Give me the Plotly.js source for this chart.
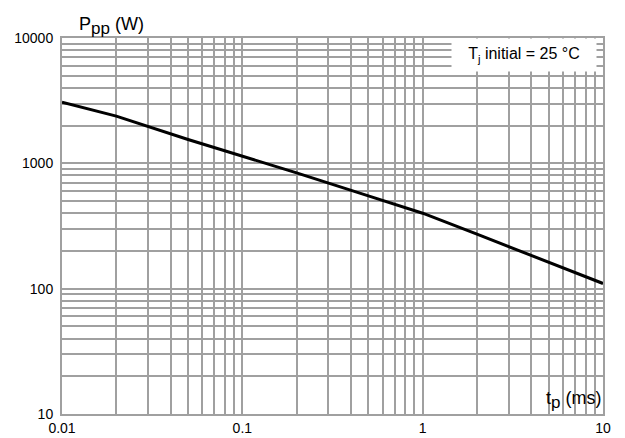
<!DOCTYPE html>
<html>
<head>
<meta charset="utf-8">
<script src="https://cdn.plot.ly/plotly-3.0.1.min.js"></script>
<style>html,body{margin:0;padding:0;background:#fff;}#chart{width:625px;height:438px;}</style>
</head>
<body>
<div id="chart"></div>
<script>
const pulseMs = [0.01, 0.02, 0.05, 0.1, 0.2, 0.5, 1, 2, 5, 10];
const peakPowerW = [3080, 2380, 1550, 1140, 840, 550, 400, 272, 162, 110];
const xTickVals = [0.01, 0.1, 1, 10];
const xTickText = ["0.01", "0.1", "1", "10"];
const yTickVals = [10, 100, 1000, 10000];
const yTickText = ["10", "100", "1000", "10000"];

const gridCol = "#a0a0a0";
const fontFam = "Liberation Sans, Arial, sans-serif";

const trace = {
  x: pulseMs, y: peakPowerW, type: "scatter", mode: "lines",
  line: {color: "#000", width: 3}, hoverinfo: "skip", showlegend: false
};

const layout = {
  width: 625, height: 438,
  margin: {l: 62, r: 22, t: 38, b: 24},
  paper_bgcolor: "#fff", plot_bgcolor: "#fff",
  font: {family: fontFam, size: 14, color: "#000"},
  xaxis: {
    type: "log", range: [-2, 1], tickvals: xTickVals, ticktext: xTickText,
    showgrid: true, gridcolor: gridCol, gridwidth: 2,
    minor: {dtick: "D1", showgrid: true, gridcolor: gridCol, gridwidth: 2},
    showline: true, mirror: true, linecolor: gridCol, linewidth: 2,
    ticks: "", zeroline: false, ticklabelstandoff: 0,
    tickfont: {size: 14, family: fontFam}
  },
  yaxis: {
    type: "log", range: [1, 4], tickvals: yTickVals, ticktext: yTickText,
    showgrid: true, gridcolor: gridCol, gridwidth: 2,
    minor: {dtick: "D1", showgrid: true, gridcolor: gridCol, gridwidth: 2},
    showline: true, mirror: true, linecolor: gridCol, linewidth: 2,
    ticks: "", zeroline: false, ticklabelstandoff: 4,
    tickfont: {size: 14, family: fontFam}
  },
  annotations: [
    {xref: "paper", yref: "paper", x: 0.028, y: 1, xanchor: "left", yanchor: "bottom", yshift: -2,
     text: "P<sub><span style=\"font-size:17px\">pp</span></sub> (W)", showarrow: false, font: {size: 18, family: fontFam}},
    {xref: "paper", yref: "paper", x: 1, y: 0, xanchor: "right", yanchor: "bottom", yshift: 0,
     text: "t<sub><span style=\"font-size:17px\">p</span></sub> (ms)", showarrow: false, font: {size: 18, family: fontFam}},
    {xref: "paper", yref: "paper", x: 0.854, y: 0.955, xanchor: "center", yanchor: "middle",
     text: "T<sub>j</sub> initial = 25 °C", showarrow: false, bgcolor: "#fff",
     width: 142, height: 30, font: {size: 16, family: fontFam}}
  ]
};

Plotly.newPlot("chart", [trace], layout, {displayModeBar: false, staticPlot: true});
</script>
</body>
</html>
